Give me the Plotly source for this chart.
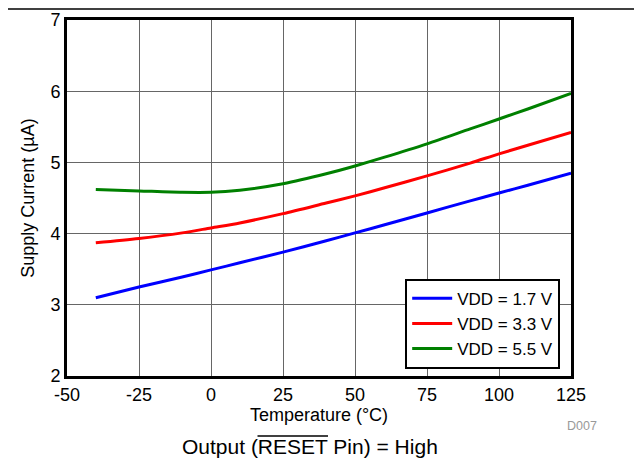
import plotly.graph_objects as go

temps = [-40, -25, -10, 0, 10, 25, 40, 50, 60, 75, 90, 100, 110, 125]
vdd17 = [3.10, 3.25, 3.39, 3.49, 3.59, 3.74, 3.90, 4.01, 4.12, 4.29, 4.46, 4.57, 4.68, 4.85]
vdd33 = [3.87, 3.93, 4.01, 4.08, 4.15, 4.28, 4.43, 4.53, 4.64, 4.81, 4.99, 5.12, 5.24, 5.42]
vdd55 = [4.62, 4.60, 4.58, 4.58, 4.61, 4.70, 4.84, 4.95, 5.07, 5.26, 5.47, 5.61, 5.75, 5.97]
series_names = ["VDD = 1.7 V", "VDD = 3.3 V", "VDD = 5.5 V"]
series_colors = ["#0000FF", "#FF0000", "#008000"]
x_ticks = [-50, -25, 0, 25, 50, 75, 100, 125]
y_ticks = [2, 3, 4, 5, 6, 7]

FONT = "Liberation Sans, Arial, sans-serif"

fig = go.Figure()
for vals, name, col in zip([vdd17, vdd33, vdd55], series_names, series_colors):
    fig.add_trace(go.Scatter(x=temps, y=vals, mode="lines", name=name,
                             line=dict(color=col, width=3, shape="spline", smoothing=0.8)))

fig.update_layout(
    width=634, height=452,
    margin=dict(l=59, r=71, t=12, b=84),
    paper_bgcolor="white", plot_bgcolor="white",
    font=dict(family=FONT, color="black", size=18),
    showlegend=True,
    legend=dict(x=0.671, y=0.273, xanchor="left", yanchor="top",
                bgcolor="white", bordercolor="black", borderwidth=2,
                font=dict(size=17, family=FONT), tracegroupgap=0,
                itemwidth=40),
    xaxis=dict(range=[-50, 125], tickvals=x_ticks, ticktext=[str(v) for v in x_ticks],
               showgrid=True, gridcolor="#666666", gridwidth=1,
               showline=True, linecolor="black", linewidth=3, mirror=True,
               ticks="", zeroline=False, ticklabelstandoff=0, automargin=False,
               title=dict(text="Temperature (°C)", font=dict(size=18), standoff=2),
               tickfont=dict(size=18)),
    yaxis=dict(range=[2, 7], tickvals=y_ticks, ticktext=[str(v) for v in y_ticks],
               showgrid=True, gridcolor="#666666", gridwidth=1,
               showline=True, linecolor="black", linewidth=3, mirror=True,
               ticks="", zeroline=False, automargin=False,
               title=dict(text="Supply Current (µA)", font=dict(size=18), standoff=12),
               tickfont=dict(size=18)),
)

# top rule
fig.add_shape(type="line", xref="paper", yref="paper",
              x0=-59/504, x1=(634-59)/504, y0=1 + 11/356, y1=1 + 11/356,
              line=dict(color="black", width=1.5))

fig.add_annotation(text="D007", xref="paper", yref="paper", x=1.022, y=-0.14,
                   xanchor="center", yanchor="middle", showarrow=False,
                   font=dict(size=12.5, color="#999999", family=FONT))
fig.add_annotation(text="Output (RESET Pin) = High",
                   xref="paper", yref="paper", x=0.482, y=-0.197,
                   xanchor="center", yanchor="middle", showarrow=False,
                   font=dict(size=21, color="black", family=FONT))
# overline above "RESET"
fig.add_shape(type="line", xref="paper", yref="paper",
              x0=(257.5-67)/504, x1=(328-67)/504, y0=-0.1685, y1=-0.1685,
              line=dict(color="black", width=1.5))

fig.write_html("out.html")
